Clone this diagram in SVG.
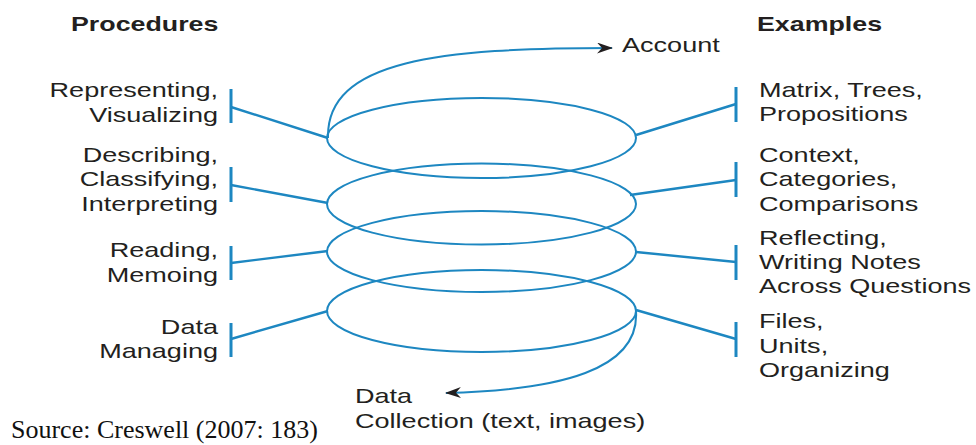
<svg xmlns="http://www.w3.org/2000/svg" width="976" height="445" viewBox="0 0 976 445">
  <defs>
    <style>
      .lbl { font-family: "Liberation Sans", Arial, sans-serif; font-size: 20.5px; fill: #231f20; }
      .hdr { font-family: "Liberation Sans", Arial, sans-serif; font-size: 20px; font-weight: bold; fill: #231f20; }
      .end { text-anchor: end; }
      .src { font-family: "Liberation Serif", "Times New Roman", serif; font-size: 26px; fill: #111; }
      .ring { fill: none; stroke: #1d87c1; stroke-width: 2; }
      .lead { fill: none; stroke: #1d87c1; stroke-width: 2.4; }
      .bar { fill: none; stroke: #1d87c1; stroke-width: 3; }
      .spiral { fill: none; stroke: #1d87c1; stroke-width: 2; }
    </style>
    <marker id="barb" viewBox="0 0 16 11" refX="15" refY="5.5" markerWidth="16" markerHeight="11" markerUnits="userSpaceOnUse" orient="auto">
      <path d="M0,0 L16,5.5 L0,11 L5,5.5 Z" fill="#231f20"/>
    </marker>
  </defs>

  <!-- column headings -->
  <g id="heading-procedures">
    <text class="hdr" transform="translate(71 31) scale(1.34 1)">Procedures</text>
  </g>
  <g id="heading-examples">
    <text class="hdr" transform="translate(757 31) scale(1.34 1)">Examples</text>
  </g>

  <!-- spiral loops, bottom to top -->
  <g id="loop-managing"><ellipse class="ring" cx="481.5" cy="311" rx="154.5" ry="41"/></g>
  <g id="loop-reading"><ellipse class="ring" cx="481.5" cy="251.5" rx="154.5" ry="40.5"/></g>
  <g id="loop-describing"><ellipse class="ring" cx="481.5" cy="204" rx="154.5" ry="40.5"/></g>
  <g id="loop-representing"><ellipse class="ring" cx="481.5" cy="138" rx="154.5" ry="40"/></g>

  <!-- leaders, bars and spiral ends -->
  <g id="connectors">
    <path class="bar" d="M231,89 V123 M231,167 V202 M231,246 V280 M231,323 V357"/>
    <path class="bar" d="M736,87 V122 M736,162 V197 M736,245 V280 M736,322 V357"/>
    <path class="lead" d="M231,107 L328,138 M231,185 L328,203 M231,263 L328,251 M231,339 L328,311"/>
    <path class="lead" d="M636,135 L736,104 M630,195 L736,180 M636,252 L736,262 M636,310 L736,339"/>
    <path class="spiral" d="M328,138 C326,60 440,48 612,48" marker-end="url(#barb)"/>
    <path class="spiral" d="M636,311 C640,370 560,390 446,393" marker-end="url(#barb)"/>
  </g>

  <!-- procedure labels -->
  <g id="proc-representing">
    <text class="lbl end" transform="translate(218 97) scale(1.32 1)">Representing,</text>
    <text class="lbl end" transform="translate(218 122) scale(1.32 1)">Visualizing</text>
  </g>
  <g id="proc-describing">
    <text class="lbl end" transform="translate(218 162) scale(1.32 1)">Describing,</text>
    <text class="lbl end" transform="translate(218 186) scale(1.32 1)">Classifying,</text>
    <text class="lbl end" transform="translate(218 211) scale(1.32 1)">Interpreting</text>
  </g>
  <g id="proc-reading">
    <text class="lbl end" transform="translate(218 257) scale(1.32 1)">Reading,</text>
    <text class="lbl end" transform="translate(218 282) scale(1.32 1)">Memoing</text>
  </g>
  <g id="proc-managing">
    <text class="lbl end" transform="translate(218 334) scale(1.32 1)">Data</text>
    <text class="lbl end" transform="translate(218 358) scale(1.32 1)">Managing</text>
  </g>

  <!-- example labels -->
  <g id="ex-matrix">
    <text class="lbl" transform="translate(759 97) scale(1.32 1)">Matrix, Trees,</text>
    <text class="lbl" transform="translate(759 121) scale(1.32 1)">Propositions</text>
  </g>
  <g id="ex-context">
    <text class="lbl" transform="translate(759 162) scale(1.32 1)">Context,</text>
    <text class="lbl" transform="translate(759 186) scale(1.32 1)">Categories,</text>
    <text class="lbl" transform="translate(759 211) scale(1.32 1)">Comparisons</text>
  </g>
  <g id="ex-reflecting">
    <text class="lbl" transform="translate(759 245) scale(1.32 1)">Reflecting,</text>
    <text class="lbl" transform="translate(759 269) scale(1.32 1)">Writing Notes</text>
    <text class="lbl" transform="translate(759 293) scale(1.32 1)">Across Questions</text>
  </g>
  <g id="ex-files">
    <text class="lbl" transform="translate(759 328) scale(1.32 1)">Files,</text>
    <text class="lbl" transform="translate(759 353) scale(1.32 1)">Units,</text>
    <text class="lbl" transform="translate(759 377) scale(1.32 1)">Organizing</text>
  </g>

  <!-- spiral endpoints -->
  <g id="account">
    <text class="lbl" transform="translate(622 52) scale(1.32 1)">Account</text>
  </g>
  <g id="data-collection">
    <text class="lbl" transform="translate(355 403) scale(1.32 1)">Data</text>
    <text class="lbl" transform="translate(355 428) scale(1.32 1)">Collection (text, images)</text>
  </g>

  <!-- citation -->
  <text class="src" x="11" y="438">Source: Creswell (2007: 183)</text>
</svg>
